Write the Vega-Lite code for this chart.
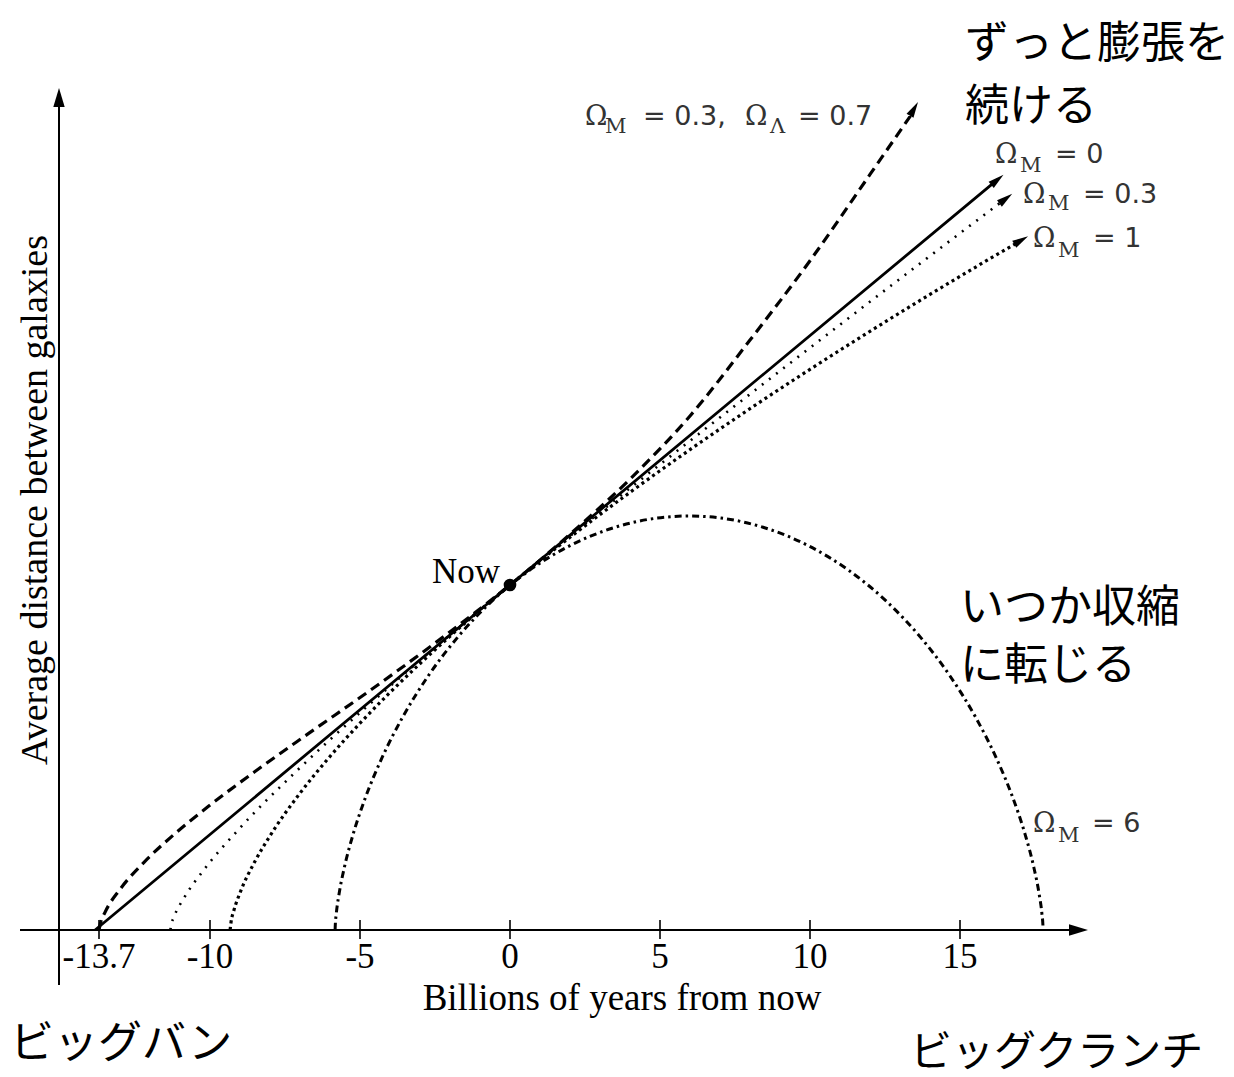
{
 "$schema": "https://vega.github.io/schema/vega-lite/v6.json",
 "width": 1234, "height": 1077, "autosize": "none", "padding": 0,
 "background": "white",
 "config": {"view": {"stroke": null}},
 "datasets": {
  "curves": [
   {"m":"0","t":-13.83,"a":0},{"m":"0","t":0,"a":1},{"m":"0","t":16.25,"a":2.175},
   {"m":"L","t":-13.7,"a":0},{"m":"L","t":-13.65,"a":0.0203},{"m":"L","t":-13.5,"a":0.0511},{"m":"L","t":-13.0,"a":0.1178},{"m":"L","t":-12.2,"a":0.1963},{"m":"L","t":-11.2,"a":0.2769},{"m":"L","t":-10.0,"a":0.3619},{"m":"L","t":-8.5,"a":0.4594},{"m":"L","t":-6.7,"a":0.5705},{"m":"L","t":-4.7,"a":0.6922},{"m":"L","t":-2.4,"a":0.8381},{"m":"L","t":0,"a":1.0},{"m":"L","t":2,"a":1.147},{"m":"L","t":4,"a":1.307},{"m":"L","t":6,"a":1.49},{"m":"L","t":8,"a":1.71},{"m":"L","t":10,"a":1.94},{"m":"L","t":12,"a":2.19},{"m":"L","t":13.35,"a":2.36},
   {"m":"03","t":-11.32,"a":0},{"m":"03","t":-11.304,"a":0.0097},{"m":"03","t":-11.19,"a":0.0397},{"m":"03","t":-10.866,"a":0.0928},{"m":"03","t":-10.211,"a":0.1737},{"m":"03","t":-9.064,"a":0.2898},{"m":"03","t":-7.225,"a":0.4516},{"m":"03","t":-5.977,"a":0.5534},{"m":"03","t":-4.43,"a":0.6738},{"m":"03","t":-2.568,"a":0.8136},{"m":"03","t":0,"a":1},{"m":"03","t":2.347,"a":1.1658},{"m":"03","t":5.552,"a":1.3872},{"m":"03","t":9.364,"a":1.6451},{"m":"03","t":13.839,"a":1.9431},{"m":"03","t":16.45,"a":2.115},
   {"m":"1","t":-9.33,"a":0},{"m":"1","t":-9.3,"a":0.0218},{"m":"1","t":-9.2,"a":0.0579},{"m":"1","t":-9.0,"a":0.1077},{"m":"1","t":-8.5,"a":0.1993},{"m":"1","t":-8,"a":0.2729},{"m":"1","t":-7,"a":0.3966},{"m":"1","t":-6,"a":0.5031},{"m":"1","t":-5,"a":0.5994},{"m":"1","t":-4,"a":0.6885},{"m":"1","t":-3,"a":0.7721},{"m":"1","t":-2,"a":0.8515},{"m":"1","t":-1,"a":0.9272},{"m":"1","t":0,"a":1},{"m":"1","t":2,"a":1.1382},{"m":"1","t":4,"a":1.2685},{"m":"1","t":6,"a":1.3924},{"m":"1","t":8,"a":1.5111},{"m":"1","t":10,"a":1.6251},{"m":"1","t":12,"a":1.7354},{"m":"1","t":14,"a":1.8423},{"m":"1","t":16,"a":1.9461},{"m":"1","t":17.0,"a":1.9969},
   {"m":"6","t":-5.83,"a":0},{"m":"6","t":-5.825,"a":0.012},{"m":"6","t":-5.79,"a":0.0474},{"m":"6","t":-5.697,"a":0.1048},{"m":"6","t":-5.52,"a":0.182},{"m":"6","t":-5.235,"a":0.2758},{"m":"6","t":-4.824,"a":0.3826},{"m":"6","t":-4.273,"a":0.498},{"m":"6","t":-3.575,"a":0.6175},{"m":"6","t":-2.727,"a":0.7363},{"m":"6","t":-1.733,"a":0.8497},{"m":"6","t":-0.604,"a":0.9531},{"m":"6","t":0.647,"a":1.0424},{"m":"6","t":2.0,"a":1.1141},{"m":"6","t":3.429,"a":1.1653},{"m":"6","t":4.908,"a":1.194},{"m":"6","t":5.97,"a":1.2},{"m":"6","t":7.032,"a":1.194},{"m":"6","t":8.511,"a":1.1653},{"m":"6","t":9.94,"a":1.1141},{"m":"6","t":11.293,"a":1.0424},{"m":"6","t":12.544,"a":0.9531},{"m":"6","t":13.673,"a":0.8497},{"m":"6","t":14.667,"a":0.7363},{"m":"6","t":15.515,"a":0.6175},{"m":"6","t":16.213,"a":0.498},{"m":"6","t":16.764,"a":0.3826},{"m":"6","t":17.175,"a":0.2758},{"m":"6","t":17.46,"a":0.182},{"m":"6","t":17.637,"a":0.1048},{"m":"6","t":17.73,"a":0.0474},{"m":"6","t":17.765,"a":0.012},{"m":"6","t":17.77,"a":0}
  ],
  "tips": [
   {"m":"0","t":16.45,"a":2.1894},{"m":"L","t":13.6,"a":2.40},{"m":"03","t":16.74,"a":2.134},{"m":"1","t":17.27,"a":2.0107}
  ],
  "axtips": [{"ax":"x","t":19.2667,"a":0},{"ax":"y","t":-15.0333,"a":2.4406}],
  "ticks": [
   {"t":-13.7,"label":"-13.7"},{"t":-10,"label":"-10"},{"t":-5,"label":"-5"},{"t":0,"label":"0"},{"t":5,"label":"5"},{"t":10,"label":"10"},{"t":15,"label":"15"}
  ],
  "labels": [
   {"t":2.5,"a":2.3333,"txt":"Ω","kind":"om"},
   {"t":7.8333,"a":2.3333,"txt":"Ω","kind":"om"},
   {"t":16.1667,"a":2.2232,"txt":"Ω","kind":"om"},
   {"t":17.1,"a":2.1072,"txt":"Ω","kind":"om"},
   {"t":17.4333,"a":1.9797,"txt":"Ω","kind":"om"},
   {"t":17.4333,"a":0.2841,"txt":"Ω","kind":"om"},
   {"t":3.1667,"a":2.3101,"txt":"M","kind":"sub"},
   {"t":8.6667,"a":2.3101,"txt":"Λ","kind":"sub"},
   {"t":17.0,"a":2.1971,"txt":"M","kind":"sub"},
   {"t":17.9333,"a":2.087,"txt":"M","kind":"sub"},
   {"t":18.2667,"a":1.9507,"txt":"M","kind":"sub"},
   {"t":18.2667,"a":0.2551,"txt":"M","kind":"sub"},
   {"t":4.4333,"a":2.3333,"txt":"= 0.3,","kind":"rel"},
   {"t":9.6,"a":2.3333,"txt":"= 0.7","kind":"rel"},
   {"t":18.1667,"a":2.2232,"txt":"= 0","kind":"rel"},
   {"t":19.1,"a":2.1072,"txt":"= 0.3","kind":"rel"},
   {"t":19.4333,"a":1.9797,"txt":"= 1","kind":"rel"},
   {"t":19.4,"a":0.2841,"txt":"= 6","kind":"rel"}
  ],
  "jp": [
   {"t":15.1667,"a":2.5275,"txt":"ずっと膨張を","g":"a"},
   {"t":15.1667,"a":2.3449,"txt":"続ける","g":"a"},
   {"t":15.0,"a":0.8928,"txt":"いつか収縮","g":"a"},
   {"t":15.0,"a":0.7246,"txt":"に転じる","g":"a"},
   {"t":-16.6667,"a":-0.371,"txt":"ビッグバン","g":"a"},
   {"t":13.3333,"a":-0.3942,"txt":"ビッグクランチ","g":"b"}
  ],
  "one": [{"k":1}]
 },
 "layer": [
  {"data":{"name":"one"},"mark":{"type":"rule","strokeWidth":2,"color":"#000"},
   "encoding":{"x":{"datum":-16.3333,"type":"quantitative","scale":{"domain":[-17,24.1333],"nice":false,"zero":false},"axis":null},"x2":{"datum":18.8},"y":{"datum":0,"type":"quantitative","scale":{"domain":[-0.42609,2.69565],"nice":false,"zero":false},"axis":null}}},
  {"data":{"name":"one"},"mark":{"type":"rule","strokeWidth":2,"color":"#000"},
   "encoding":{"x":{"datum":-15.0333,"type":"quantitative","scale":{"domain":[-17,24.1333],"nice":false,"zero":false},"axis":null},"y":{"datum":-0.1594,"type":"quantitative","scale":{"domain":[-0.42609,2.69565],"nice":false,"zero":false},"axis":null},"y2":{"datum":2.40}}},
  {"data":{"name":"ticks"},"mark":{"type":"rule","strokeWidth":1.6,"color":"#000"},
   "encoding":{"x":{"field":"t","type":"quantitative","scale":{"domain":[-17,24.1333],"nice":false,"zero":false},"axis":null},"y":{"datum":0.029,"type":"quantitative","scale":{"domain":[-0.42609,2.69565],"nice":false,"zero":false},"axis":null},"y2":{"datum":-0.026}}},
  {"data":{"name":"ticks"},"mark":{"type":"text","font":"Liberation Serif","fontSize":35,"align":"center","baseline":"alphabetic","color":"#000"},
   "encoding":{"x":{"field":"t","type":"quantitative","scale":{"domain":[-17,24.1333],"nice":false,"zero":false},"axis":null},"y":{"datum":-0.1101,"type":"quantitative","scale":{"domain":[-0.42609,2.69565],"nice":false,"zero":false},"axis":null},"text":{"field":"label"}}},
  {"data":{"name":"axtips"},"transform":[{"filter":"datum.ax === 'x'"}],"mark":{"type":"point","shape":"M0,0L-0.6,2L0.6,2Z","filled":true,"size":361,"angle":90,"color":"#000","opacity":1},
   "encoding":{"x":{"field":"t","type":"quantitative","scale":{"domain":[-17,24.1333],"nice":false,"zero":false},"axis":null},"y":{"field":"a","type":"quantitative","scale":{"domain":[-0.42609,2.69565],"nice":false,"zero":false},"axis":null}}},
  {"data":{"name":"axtips"},"transform":[{"filter":"datum.ax === 'y'"}],"mark":{"type":"point","shape":"M0,0L-0.6,2L0.6,2Z","filled":true,"size":361,"angle":0,"color":"#000","opacity":1},
   "encoding":{"x":{"field":"t","type":"quantitative","scale":{"domain":[-17,24.1333],"nice":false,"zero":false},"axis":null},"y":{"field":"a","type":"quantitative","scale":{"domain":[-0.42609,2.69565],"nice":false,"zero":false},"axis":null}}},
  {"data":{"name":"curves"},"transform":[{"filter":"datum.m === '0'"}],"mark":{"type":"line","strokeWidth":2.8,"color":"#000"},
   "encoding":{"x":{"field":"t","type":"quantitative","scale":{"domain":[-17,24.1333],"nice":false,"zero":false},"axis":null},"y":{"field":"a","type":"quantitative","scale":{"domain":[-0.42609,2.69565],"nice":false,"zero":false},"axis":null},"order":{"field":"t","type":"quantitative"}}},
  {"data":{"name":"curves"},"transform":[{"filter":"datum.m === 'L'"}],"mark":{"type":"line","strokeWidth":3.2,"strokeDash":[10,6],"interpolate":"monotone","color":"#000"},
   "encoding":{"x":{"field":"t","type":"quantitative","scale":{"domain":[-17,24.1333],"nice":false,"zero":false},"axis":null},"y":{"field":"a","type":"quantitative","scale":{"domain":[-0.42609,2.69565],"nice":false,"zero":false},"axis":null},"order":{"field":"t","type":"quantitative"}}},
  {"data":{"name":"curves"},"transform":[{"filter":"datum.m === '03'"}],"mark":{"type":"line","strokeWidth":2.6,"strokeDash":[2,7],"interpolate":"monotone","color":"#000"},
   "encoding":{"x":{"field":"t","type":"quantitative","scale":{"domain":[-17,24.1333],"nice":false,"zero":false},"axis":null},"y":{"field":"a","type":"quantitative","scale":{"domain":[-0.42609,2.69565],"nice":false,"zero":false},"axis":null},"order":{"field":"t","type":"quantitative"}}},
  {"data":{"name":"curves"},"transform":[{"filter":"datum.m === '1'"}],"mark":{"type":"line","strokeWidth":3.2,"strokeDash":[3,3.5],"interpolate":"monotone","color":"#000"},
   "encoding":{"x":{"field":"t","type":"quantitative","scale":{"domain":[-17,24.1333],"nice":false,"zero":false},"axis":null},"y":{"field":"a","type":"quantitative","scale":{"domain":[-0.42609,2.69565],"nice":false,"zero":false},"axis":null},"order":{"field":"t","type":"quantitative"}}},
  {"data":{"name":"curves"},"transform":[{"filter":"datum.m === '6'"}],"mark":{"type":"line","strokeWidth":3,"strokeDash":[7,4,2.5,4],"interpolate":"monotone","color":"#000"},
   "encoding":{"x":{"field":"t","type":"quantitative","scale":{"domain":[-17,24.1333],"nice":false,"zero":false},"axis":null},"y":{"field":"a","type":"quantitative","scale":{"domain":[-0.42609,2.69565],"nice":false,"zero":false},"axis":null},"order":{"field":"t","type":"quantitative"}}},
  {"data":{"name":"tips"},"transform":[{"filter":"datum.m === '0'"}],"mark":{"type":"point","shape":"M0,0L-0.5,2L0.5,2Z","filled":true,"size":256,"angle":50.3,"color":"#000","opacity":1},
   "encoding":{"x":{"field":"t","type":"quantitative","scale":{"domain":[-17,24.1333],"nice":false,"zero":false},"axis":null},"y":{"field":"a","type":"quantitative","scale":{"domain":[-0.42609,2.69565],"nice":false,"zero":false},"axis":null}}},
  {"data":{"name":"tips"},"transform":[{"filter":"datum.m === 'L'"}],"mark":{"type":"point","shape":"M0,0L-0.5,2L0.5,2Z","filled":true,"size":256,"angle":30,"color":"#000","opacity":1},
   "encoding":{"x":{"field":"t","type":"quantitative","scale":{"domain":[-17,24.1333],"nice":false,"zero":false},"axis":null},"y":{"field":"a","type":"quantitative","scale":{"domain":[-0.42609,2.69565],"nice":false,"zero":false},"axis":null}}},
  {"data":{"name":"tips"},"transform":[{"filter":"datum.m === '03'"}],"mark":{"type":"point","shape":"M0,0L-0.5,2L0.5,2Z","filled":true,"size":256,"angle":52.8,"color":"#000","opacity":1},
   "encoding":{"x":{"field":"t","type":"quantitative","scale":{"domain":[-17,24.1333],"nice":false,"zero":false},"axis":null},"y":{"field":"a","type":"quantitative","scale":{"domain":[-0.42609,2.69565],"nice":false,"zero":false},"axis":null}}},
  {"data":{"name":"tips"},"transform":[{"filter":"datum.m === '1'"}],"mark":{"type":"point","shape":"M0,0L-0.5,2L0.5,2Z","filled":true,"size":256,"angle":59.9,"color":"#000","opacity":1},
   "encoding":{"x":{"field":"t","type":"quantitative","scale":{"domain":[-17,24.1333],"nice":false,"zero":false},"axis":null},"y":{"field":"a","type":"quantitative","scale":{"domain":[-0.42609,2.69565],"nice":false,"zero":false},"axis":null}}},
  {"data":{"name":"one"},"mark":{"type":"point","shape":"circle","filled":true,"size":160,"color":"#000","opacity":1},
   "encoding":{"x":{"datum":0,"type":"quantitative","scale":{"domain":[-17,24.1333],"nice":false,"zero":false},"axis":null},"y":{"datum":1,"type":"quantitative","scale":{"domain":[-0.42609,2.69565],"nice":false,"zero":false},"axis":null}}},
  {"data":{"name":"one"},"mark":{"type":"text","font":"Liberation Serif","fontSize":35,"align":"right","baseline":"alphabetic","color":"#000"},
   "encoding":{"x":{"datum":-0.3333,"type":"quantitative","scale":{"domain":[-17,24.1333],"nice":false,"zero":false},"axis":null},"y":{"datum":1.0058,"type":"quantitative","scale":{"domain":[-0.42609,2.69565],"nice":false,"zero":false},"axis":null},"text":{"value":"Now"}}},
  {"data":{"name":"labels"},"transform":[{"filter":"datum.kind === 'om'"}],"mark":{"type":"text","font":"DejaVu Serif","fontSize":27,"align":"left","baseline":"alphabetic","color":"#333"},
   "encoding":{"x":{"field":"t","type":"quantitative","scale":{"domain":[-17,24.1333],"nice":false,"zero":false},"axis":null},"y":{"field":"a","type":"quantitative","scale":{"domain":[-0.42609,2.69565],"nice":false,"zero":false},"axis":null},"text":{"field":"txt"}}},
  {"data":{"name":"labels"},"transform":[{"filter":"datum.kind === 'sub'"}],"mark":{"type":"text","font":"DejaVu Serif","fontSize":21,"align":"left","baseline":"alphabetic","color":"#333"},
   "encoding":{"x":{"field":"t","type":"quantitative","scale":{"domain":[-17,24.1333],"nice":false,"zero":false},"axis":null},"y":{"field":"a","type":"quantitative","scale":{"domain":[-0.42609,2.69565],"nice":false,"zero":false},"axis":null},"text":{"field":"txt"}}},
  {"data":{"name":"labels"},"transform":[{"filter":"datum.kind === 'rel'"}],"mark":{"type":"text","font":"DejaVu Sans","fontSize":27,"align":"left","baseline":"alphabetic","color":"#333"},
   "encoding":{"x":{"field":"t","type":"quantitative","scale":{"domain":[-17,24.1333],"nice":false,"zero":false},"axis":null},"y":{"field":"a","type":"quantitative","scale":{"domain":[-0.42609,2.69565],"nice":false,"zero":false},"axis":null},"text":{"field":"txt"}}},
  {"data":{"name":"one"},"mark":{"type":"text","font":"Liberation Serif","fontSize":37,"align":"center","baseline":"alphabetic","color":"#000"},
   "encoding":{"x":{"datum":3.7333,"type":"quantitative","scale":{"domain":[-17,24.1333],"nice":false,"zero":false},"axis":null},"y":{"datum":-0.2319,"type":"quantitative","scale":{"domain":[-0.42609,2.69565],"nice":false,"zero":false},"axis":null},"text":{"value":"Billions of years from now"}}},
  {"data":{"name":"one"},"mark":{"type":"text","font":"Liberation Serif","fontSize":38,"align":"center","baseline":"alphabetic","angle":270,"color":"#000"},
   "encoding":{"x":{"datum":-15.4333,"type":"quantitative","scale":{"domain":[-17,24.1333],"nice":false,"zero":false},"axis":null},"y":{"datum":1.2464,"type":"quantitative","scale":{"domain":[-0.42609,2.69565],"nice":false,"zero":false},"axis":null},"text":{"value":"Average distance between galaxies"}}},
  {"data":{"name":"jp"},"transform":[{"filter":"datum.g === 'a'"}],"mark":{"type":"text","font":"Noto Sans CJK JP","fontSize":44,"align":"left","baseline":"alphabetic","color":"#000"},
   "encoding":{"x":{"field":"t","type":"quantitative","scale":{"domain":[-17,24.1333],"nice":false,"zero":false},"axis":null},"y":{"field":"a","type":"quantitative","scale":{"domain":[-0.42609,2.69565],"nice":false,"zero":false},"axis":null},"text":{"field":"txt"}}},
  {"data":{"name":"jp"},"transform":[{"filter":"datum.g === 'b'"}],"mark":{"type":"text","font":"Noto Sans CJK JP","fontSize":42,"align":"left","baseline":"alphabetic","color":"#000"},
   "encoding":{"x":{"field":"t","type":"quantitative","scale":{"domain":[-17,24.1333],"nice":false,"zero":false},"axis":null},"y":{"field":"a","type":"quantitative","scale":{"domain":[-0.42609,2.69565],"nice":false,"zero":false},"axis":null},"text":{"field":"txt"}}}
 ]
}
